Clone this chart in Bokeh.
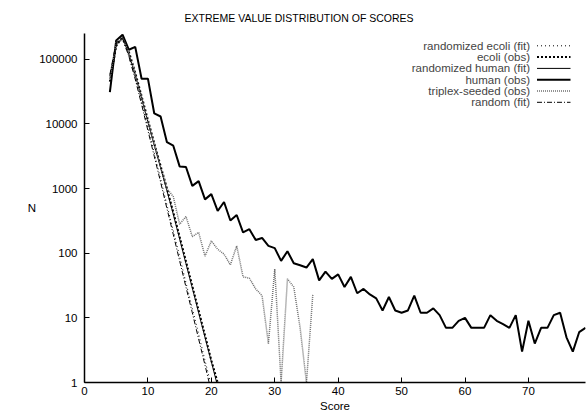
from bokeh.plotting import figure
from bokeh.models import (ColumnDataSource, Range1d, FixedTicker, NumeralTickFormatter,
                          Label, Arrow, Title)
from bokeh.embed import file_html
from bokeh.resources import INLINE

FONT = "Liberation Sans"
FS = "11.5px"

# ---- data ----
fit_scores = [4, 5, 6, 7, 8, 9, 10, 11, 12, 13, 14, 15, 16, 17, 18, 19, 20, 21]
rand_ecoli_fit = [50000, 165000, 200000, 112000, 51000, 21400, 8700, 3550, 1410,
                  560, 224, 89, 35, 14, 5.6, 2.2, 0.89, 0.35]
ecoli_obs = [45000, 160000, 225000, 130000, 62000, 27000, 11500, 5000, 2250,
             1000, 430, 180, 75, 31, 13, 5.4, 2.2, 1]
rand_human_fit = [55000, 170000, 214000, 120000, 57500, 25100, 10700, 4700, 2090,
                  930, 400, 166, 69, 29, 12, 5.0, 2.1, 0.87]
random_fit = [58000, 180000, 209000, 110000, 49000, 20000, 7900, 3160, 1260,
              490, 195, 76, 30, 12, 4.7, 1.86, 0.72, 0.28]

human_scores = list(range(4, 80))
human_obs = [31000, 195000, 240000, 140000, 155000, 50000, 50000, 14500, 13000, 5200,
             4600, 2200, 2150, 1100, 1300, 680, 820, 450, 620, 320,
             390, 210, 235, 160, 172, 130, 120, 76, 107, 70,
             65, 60, 81, 38, 52, 40, 47, 30, 43, 24,
             28, 23, 20, 13, 21, 13, 12, 13, 22, 12,
             12, 14, 11, 7, 7, 9, 10, 7, 7, 7,
             11, 9, 8, 7, 11, 3, 9, 4, 7, 7,
             11, 12, 5, 3, 6, 7]

triplex_scores = list(range(4, 37))
triplex_obs = [50000, 185000, 215000, 125000, 60000, 26000, 11000, 4900, 2200, 1000,
               750, 280, 370, 180, 210, 90, 155, 115, 97, 66,
               130, 43, 41, 28, 22, 4, 57, 1, 40, 30,
               7, 1, 23]

x_ticks = [0, 10, 20, 30, 40, 50, 60, 70]
y_ticks = [1, 10, 100, 1000, 10000, 100000]

legend_labels = ["randomized ecoli (fit)", "ecoli (obs)", "randomized human (fit)",
                 "human (obs)", "triplex-seeded (obs)", "random (fit)"]

# ---- styles ----
styles = {
    "randomized ecoli (fit)": dict(line_color="black", line_width=1, line_dash="1 3"),
    "ecoli (obs)": dict(line_color="black", line_width=2, line_dash="2 2"),
    "randomized human (fit)": dict(line_color="black", line_width=1),
    "human (obs)": dict(line_color="black", line_width=2),
    "triplex-seeded (obs)": dict(line_color="#707070", line_width=1.5, line_dash="1 1"),
    "random (fit)": dict(line_color="black", line_width=1, line_dash="5 2 1 2"),
}

p = figure(width=587, height=416, y_axis_type="log", output_backend="svg",
           toolbar_location=None, x_range=Range1d(0, 79), y_range=Range1d(1, 250000),
           min_border_left=84, min_border_right=2, min_border_top=33, min_border_bottom=34)
p.title = Title(text="EXTREME VALUE DISTRIBUTION OF SCORES", align="left", offset=100,
                text_font=FONT, text_font_size="10.5px", text_font_style="normal",
                text_color="black", standoff=19)
p.outline_line_color = None
p.xgrid.visible = False
p.ygrid.visible = False
p.background_fill_color = "white"
p.border_fill_color = "white"

fit_src = ColumnDataSource(dict(x=fit_scores, re=rand_ecoli_fit, eo=ecoli_obs,
                                rh=rand_human_fit, rf=random_fit))
hum_src = ColumnDataSource(dict(x=human_scores, y=human_obs))
tri_src = ColumnDataSource(dict(x=triplex_scores, y=triplex_obs))

p.line("x", "re", source=fit_src, **styles["randomized ecoli (fit)"])
p.line("x", "eo", source=fit_src, **styles["ecoli (obs)"])
p.line("x", "rh", source=fit_src, **styles["randomized human (fit)"])
p.line("x", "y", source=hum_src, **styles["human (obs)"])
p.line("x", "y", source=tri_src, **styles["triplex-seeded (obs)"])
p.line("x", "rf", source=fit_src, **styles["random (fit)"])

for ax in (p.xaxis[0], p.yaxis[0]):
    ax.axis_line_width = 1.5
    ax.axis_line_color = "black"
    ax.major_tick_in = 5
    ax.major_tick_out = 0
    ax.major_tick_line_width = 1
    ax.minor_tick_in = 0
    ax.minor_tick_out = 0
    ax.major_label_text_font = FONT
    ax.major_label_text_font_size = FS
    ax.major_label_text_color = "black"
    ax.axis_label_text_font = FONT
    ax.axis_label_text_font_size = FS
    ax.axis_label_text_font_style = "normal"
    ax.axis_label_text_color = "black"

p.xaxis.ticker = FixedTicker(ticks=x_ticks, minor_ticks=[])
p.yaxis.ticker = FixedTicker(ticks=y_ticks, minor_ticks=[])
p.yaxis.formatter = NumeralTickFormatter(format="0")
p.xaxis.major_label_standoff = 4
p.yaxis.major_label_standoff = 7
p.xaxis.axis_label = "Score"
p.xaxis.axis_label_standoff = 2
p.yaxis.axis_label = "N"
p.yaxis.axis_label_standoff = 0
try:
    p.yaxis[0].axis_label_orientation = "horizontal"
except Exception:
    pass

# legend (text right-aligned, line sample on its right)
row_y0 = 336.7
row_step = 11.3
for i, lab in enumerate(legend_labels):
    yy = row_y0 - i * row_step
    p.add_layout(Label(x=445.5, y=yy, x_units="screen", y_units="screen", text=lab,
                       text_align="right", text_baseline="middle", text_font=FONT,
                       text_font_size=FS))
    p.add_layout(Arrow(end=None, x_start=452.5, x_end=486.0, y_start=yy, y_end=yy,
                       start_units="screen", end_units="screen", **styles[lab]))

open("out.html", "w").write(file_html(p, INLINE))
